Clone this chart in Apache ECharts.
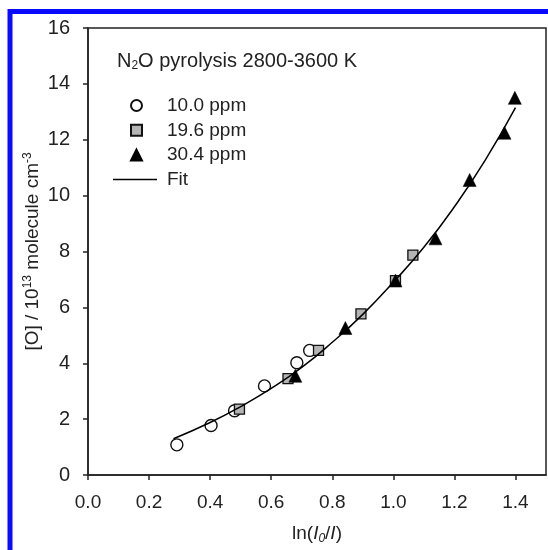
<!DOCTYPE html>
<html>
<head>
<meta charset="utf-8">
<script src="https://cdn.jsdelivr.net/npm/echarts@6/dist/echarts.min.js"></script>
<style>
  html, body { margin: 0; padding: 0; background: #fff; }
  #chart { width: 548px; height: 550px; }
</style>
</head>
<body>
<div id="chart"></div>
<script>
// data: [ln(I0/I), [O] / 1e13]
var ppm10 = [[0.291, 1.08], [0.403, 1.77], [0.48, 2.3], [0.578, 3.19], [0.684, 4.02], [0.726, 4.46]];
var ppm19 = [[0.496, 2.36], [0.655, 3.45], [0.755, 4.46], [0.894, 5.77], [1.007, 6.96], [1.064, 7.87]];
var ppm30 = [[0.679, 3.55], [0.843, 5.26], [1.007, 6.96], [1.138, 8.47], [1.25, 10.56], [1.364, 12.25], [1.398, 13.5]];
var fitX = [0.28, 0.4, 0.5, 0.6, 0.7, 0.8, 0.9, 1.0, 1.1, 1.2, 1.3, 1.4];
var fitY = [1.3, 1.88, 2.45, 3.1, 3.85, 4.75, 5.75, 6.9, 8.15, 9.6, 11.25, 13.15];
var xTicks = [0, 0.2, 0.4, 0.6, 0.8, 1.0, 1.2, 1.4];

var font = "'Liberation Sans', Arial, sans-serif";
var ink = "#222";

var chart = echarts.init(document.getElementById("chart"));

var option = {
  backgroundColor: "#fff",
  animation: false,
  textStyle: { fontFamily: font, color: ink },
  // blue selection frame around the figure
  graphic: [
    {
      type: "rect",
      shape: { x: 10, y: 11.5, width: 700, height: 700 },
      style: { fill: null, stroke: "#0a0aff", lineWidth: 5 },
      silent: true
    }
  ],
  title: {
    text: "{a|N}{s|2}{a|O pyrolysis 2800-3600 K}",
    left: 112,
    top: 45,
    textStyle: {
      fontWeight: "normal",
      rich: {
        a: { fontSize: 20, fontFamily: font, fontWeight: "normal", color: ink, lineHeight: 22 },
        s: { fontSize: 12, fontFamily: font, fontWeight: "normal", color: ink, lineHeight: 12, verticalAlign: "bottom" }
      }
    }
  },
  legend: [
    {
      // symbol entries
      orient: "vertical",
      left: 125,
      top: 91,
      itemWidth: 11,
      itemHeight: 11,
      itemGap: 5.8,
      textStyle: { fontSize: 19, fontFamily: font, color: ink, padding: [0, 0, 0, 20] },
      data: ["10.0 ppm", "19.6 ppm", "30.4 ppm"]
    },
    {
      // fit line entry
      orient: "vertical",
      left: 108,
      top: 165,
      itemWidth: 44,
      itemHeight: 1.5,
      textStyle: { fontSize: 19, fontFamily: font, color: ink, padding: [0, 0, 0, 5] },
      data: [{ name: "Fit", icon: "rect", itemStyle: { color: "#000" } }]
    }
  ],
  grid: {
    left: 88, top: 28, right: 2, bottom: 72,
    show: true, borderColor: ink, borderWidth: 1.5
  },
  xAxis: {
    type: "value",
    min: 0, max: 1.5, interval: 0.2,
    name: "{a|ln(}{i|I}{s|0}{a|/}{i|I}{a|)}",
    nameLocation: "middle",
    nameGap: 48,
    nameMoveOverlap: false,
    nameTextStyle: {
      rich: {
        a: { fontSize: 19, fontFamily: font, color: ink, lineHeight: 22 },
        i: { fontSize: 19, fontFamily: font, color: ink, lineHeight: 22, fontStyle: "italic" },
        s: { fontSize: 12, fontFamily: font, color: ink, lineHeight: 12, verticalAlign: "bottom", fontStyle: "italic" }
      }
    },
    axisLine: { show: true, lineStyle: { color: ink, width: 1.5 } },
    axisTick: { show: true, length: 5, inside: false, customValues: xTicks, lineStyle: { color: ink, width: 1.5 } },
    axisLabel: {
      customValues: xTicks,
      margin: 18, fontSize: 19, fontFamily: font, color: ink,
      formatter: function (v) { return v.toFixed(1); }
    },
    splitLine: { show: false }
  },
  yAxis: {
    type: "value",
    min: 0, max: 16, interval: 2,
    name: "{a|[O] / 10}{p|13}{a| molecule cm}{p|-3}",
    nameLocation: "middle",
    nameGap: 44,
    nameMoveOverlap: false,
    nameTextStyle: {
      rich: {
        a: { fontSize: 19, fontFamily: font, color: ink, lineHeight: 22 },
        p: { fontSize: 12, fontFamily: font, color: ink, lineHeight: 12, verticalAlign: "top" }
      }
    },
    axisLine: { show: true, lineStyle: { color: ink, width: 1.5 } },
    axisTick: { show: true, length: 5, inside: false, lineStyle: { color: ink, width: 1.5 } },
    axisLabel: { margin: 18, fontSize: 20, fontFamily: font, color: ink },
    splitLine: { show: false }
  },
  series: [
    {
      name: "10.0 ppm",
      type: "scatter",
      symbol: "circle",
      symbolSize: 12,
      itemStyle: { color: "#fff", borderColor: "#111", borderWidth: 1.4, opacity: 1 },
      data: ppm10,
      z: 2
    },
    {
      name: "19.6 ppm",
      type: "scatter",
      symbol: "rect",
      symbolSize: 10,
      itemStyle: { color: "#b4b4b4", borderColor: "#111", borderWidth: 1.3, opacity: 1 },
      data: ppm19,
      z: 3
    },
    {
      name: "30.4 ppm",
      type: "scatter",
      symbol: "triangle",
      symbolSize: 13,
      itemStyle: { color: "#000", borderColor: "#000", borderWidth: 0.5, opacity: 1 },
      data: ppm30,
      z: 4
    },
    {
      name: "Fit",
      type: "line",
      symbol: "none",
      smooth: true,
      lineStyle: { color: "#000", width: 1.5 },
      itemStyle: { color: "#000" },
      data: fitX.map(function (x, i) { return [x, fitY[i]]; }),
      z: 5
    }
  ]
};

option && chart.setOption(option);
</script>
</body>
</html>
